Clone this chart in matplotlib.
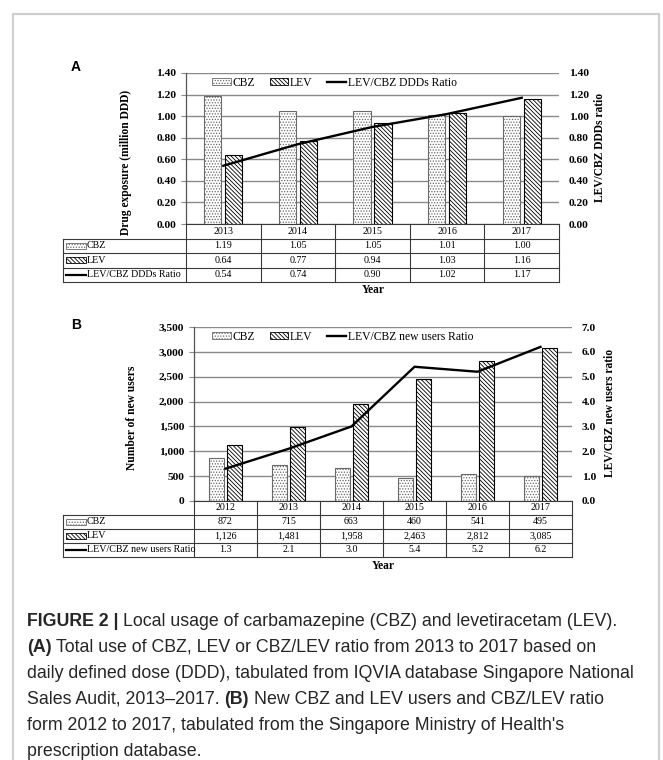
import numpy as np
import matplotlib
matplotlib.use("Agg")
import matplotlib.pyplot as plt
from matplotlib.patches import Rectangle, Patch
from matplotlib.lines import Line2D
from matplotlib.transforms import blended_transform_factory

# ---- data -------------------------------------------------------------
years_a = ["2013", "2014", "2015", "2016", "2017"]
cbz_ddd = [1.19, 1.05, 1.05, 1.01, 1.00]
lev_ddd = [0.64, 0.77, 0.94, 1.03, 1.16]
ratio_ddd = [0.54, 0.74, 0.90, 1.02, 1.17]

years_b = ["2012", "2013", "2014", "2015", "2016", "2017"]
cbz_users = [872, 715, 663, 460, 541, 495]
lev_users = [1126, 1481, 1958, 2463, 2812, 3085]
ratio_users = [1.3, 2.1, 3.0, 5.4, 5.2, 6.2]

ticks_a = [0.0, 0.2, 0.4, 0.6, 0.8, 1.0, 1.2, 1.4]
ticks_b_left = [0, 500, 1000, 1500, 2000, 2500, 3000, 3500]
ticks_b_right = [0.0, 1.0, 2.0, 3.0, 4.0, 5.0, 6.0, 7.0]

# ---- styling ----------------------------------------------------------
W, H = 663, 760
SERIF = "Liberation Serif"
SANS = "Liberation Sans"
GRID = "#8a8a8a"
TABLE = "#3a3a3a"
CBZ_STYLE = dict(facecolor="white", edgecolor="#6a6a6a", hatch="......")
LEV_STYLE = dict(facecolor="white", edgecolor="black", hatch="\\" * 8)
plt.rcParams["hatch.linewidth"] = 0.6
plt.rcParams["font.family"] = SERIF

fig = plt.figure(figsize=(W / 100, H / 100), dpi=100)
fig.patch.set_facecolor("white")


def fx(px):
    return px / W


def fy(py):
    return 1 - py / H


def add_axes_px(left, top, right, bottom):
    return fig.add_axes([fx(left), fy(bottom), (right - left) / W, (bottom - top) / H])


# outer frame
fig.add_artist(Rectangle((fx(13), fy(800)), fx(659) - fx(13), fy(14) - fy(800),
                         transform=fig.transFigure, facecolor="none",
                         edgecolor="#cfcfcf", lw=1.6, clip_on=False))


def key_artist(kind, x0, yc):
    """Small legend key drawn inside a table row label."""
    if kind == "cbz":
        fig.add_artist(Rectangle((fx(x0), fy(yc + 3)), 20 / W, 6 / H,
                                 transform=fig.transFigure, lw=0.6, **CBZ_STYLE))
    elif kind == "lev":
        fig.add_artist(Rectangle((fx(x0), fy(yc + 3)), 20 / W, 6 / H,
                                 transform=fig.transFigure, lw=0.6, **LEV_STYLE))
    else:
        fig.add_artist(Line2D([fx(x0), fx(x0 + 20)], [fy(yc), fy(yc)],
                              transform=fig.transFigure, color="black", lw=1.6))


def panel(box, cats, cbz, lev, ratio, lticks, lfmt, rticks, rfmt,
          ylabel, rlabel, ratio_name, ylabel_xy, rlabel_xy, bar_w, bar_off,
          leg_anchor, table_top, row_h, row_values):
    left, top, right, bottom = box
    ax = add_axes_px(left, top, right, bottom)
    n = len(cats)
    x = np.arange(n)
    ax.bar(x - bar_off, cbz, width=bar_w, lw=0.8, zorder=2, **CBZ_STYLE)
    ax.bar(x + bar_off, lev, width=bar_w, lw=0.8, zorder=2, **LEV_STYLE)
    ax.set_xlim(-0.5, n - 0.5)
    ax.set_ylim(lticks[0], lticks[-1])
    ax.set_yticks(lticks, labels=[lfmt(v) for v in lticks],
                  fontweight="bold", fontsize=8.2)
    ax.set_xticks([])
    ax.grid(axis="y", color=GRID, lw=1.0)
    ax.set_axisbelow(True)
    for s in ("top", "right", "bottom"):
        ax.spines[s].set_visible(False)
    ax.spines["left"].set_color("#555555")
    ax.spines["left"].set_linewidth(0.9)
    ax.tick_params(axis="y", length=3.6, width=0.8, color=GRID, pad=3.4)

    ax2 = ax.twinx()
    ax2.plot(x, ratio, color="black", lw=1.7, zorder=3)
    ax2.set_ylim(rticks[0], rticks[-1])
    ax2.set_yticks(rticks, labels=[rfmt(v) for v in rticks],
                   fontweight="bold", fontsize=8.2)
    ax2.tick_params(axis="y", length=0, pad=7.0)
    for s in ax2.spines.values():
        s.set_visible(False)

    handles = [Patch(lw=0.6, **CBZ_STYLE), Patch(lw=0.6, **LEV_STYLE),
               Line2D([], [], color="black", lw=1.7)]
    ax2.legend(handles, ["CBZ", "LEV", ratio_name], loc="center left",
               bbox_to_anchor=leg_anchor, ncol=3, frameon=False,
               prop=dict(family=SERIF, size=8.4), handlelength=1.6,
               handleheight=0.55, handletextpad=0.15, columnspacing=1.25,
               borderpad=0, borderaxespad=0)

    fig.text(fx(ylabel_xy[0]), fy(ylabel_xy[1]), ylabel, rotation=90,
             ha="center", va="center", fontsize=8.3, fontweight="bold")
    fig.text(fx(rlabel_xy[0]), fy(rlabel_xy[1]), rlabel, rotation=90,
             ha="center", va="center", fontsize=8.3, fontweight="bold")

    # data table under the axes
    tr = blended_transform_factory(ax.transData, fig.transFigure)
    tleft = 63
    edges = [table_top + row_h * i for i in range(5)]
    lw = 0.8
    # horizontal rules
    fig.add_artist(Line2D([fx(left), fx(right)], [fy(edges[0])] * 2,
                          transform=fig.transFigure, color=TABLE, lw=lw))
    for e in edges[1:]:
        fig.add_artist(Line2D([fx(tleft), fx(right)], [fy(e)] * 2,
                              transform=fig.transFigure, color=TABLE, lw=lw))
    # vertical rules
    fig.add_artist(Line2D([fx(tleft)] * 2, [fy(edges[1]), fy(edges[4])],
                          transform=fig.transFigure, color=TABLE, lw=lw))
    for k in range(n + 1):
        fig.add_artist(Line2D([k - 0.5] * 2, [fy(edges[0]), fy(edges[4])],
                              transform=tr, color=TABLE, lw=lw))
    centers = [(edges[i] + edges[i + 1]) / 2 for i in range(4)]
    for k, c in enumerate(cats):
        fig.text(k, fy(centers[0]), c, transform=tr, ha="center",
                 va="center", fontsize=7.2)
    row_labels = ["CBZ", "LEV", ratio_name]
    kinds = ["cbz", "lev", "ratio"]
    for r, (lab, kind, vals) in enumerate(zip(row_labels, kinds, row_values)):
        yc = centers[r + 1]
        key_artist(kind, 65.5, yc)
        fig.text(fx(87), fy(yc), lab, ha="left", va="center", fontsize=7.2)
        for k, v in enumerate(vals):
            fig.text(k, fy(yc), v, transform=tr, ha="center", va="center",
                     fontsize=7.2)
    return ax


panel((186, 73, 559, 224), years_a, cbz_ddd, lev_ddd, ratio_ddd,
      ticks_a, lambda v: f"{v:.2f}", ticks_a, lambda v: f"{v:.2f}",
      "Drug exposure (million DDD)", "LEV/CBZ DDDs ratio", "LEV/CBZ DDDs Ratio",
      (126, 162), (600, 147), 0.23, 0.14, (0.07, 0.934), 224, 14.5,
      [[f"{v:.2f}" for v in cbz_ddd], [f"{v:.2f}" for v in lev_ddd],
       [f"{v:.2f}" for v in ratio_ddd]])

panel((194, 327, 572, 501), years_b, cbz_users, lev_users, ratio_users,
      ticks_b_left, lambda v: f"{v:,.0f}", ticks_b_right, lambda v: f"{v:.1f}",
      "Number of new users", "LEV/CBZ new users ratio", "LEV/CBZ new users Ratio",
      (132, 418), (610, 413), 0.24, 0.143, (0.048, 0.943), 501, 14.0,
      [[f"{v:,}" for v in cbz_users], [f"{v:,}" for v in lev_users],
       [f"{v:.1f}" for v in ratio_users]])

fig.text(fx(373), fy(290), "Year", ha="center", va="center",
         fontsize=8.3, fontweight="bold")
fig.text(fx(383), fy(566), "Year", ha="center", va="center",
         fontsize=8.3, fontweight="bold")
fig.text(fx(76), fy(67), "A", ha="center", va="center", family=SANS,
         fontsize=10, fontweight="bold")
fig.text(fx(76), fy(325), "B", ha="center", va="center", family=SANS,
         fontsize=10, fontweight="bold")

# ---- caption ----------------------------------------------------------
caption = [
    [("FIGURE 2 |", True), ("Local usage of carbamazepine (CBZ) and levetiracetam (LEV).", False)],
    [("(A)", True), ("Total use of CBZ, LEV or CBZ/LEV ratio from 2013 to 2017 based on", False)],
    [("daily defined dose (DDD), tabulated from IQVIA database Singapore National", False)],
    [("Sales Audit, 2013\u20132017.", False), ("(B)", True),
     ("New CBZ and LEV users and CBZ/LEV ratio", False)],
    [("form 2012 to 2017, tabulated from the Singapore Ministry of Health's", False)],
    [("prescription database.", False)],
]
CAP_SIZE = 12.8
CAP_COLOR = "#262626"
renderer = fig.canvas.get_renderer()


def text_width(s, bold):
    t = fig.text(0, 0, s, fontsize=CAP_SIZE, family=SANS,
                 fontweight="bold" if bold else "normal")
    w = t.get_window_extent(renderer).width
    t.remove()
    return w


space_w = text_width("x x", False) - text_width("xx", False)
baseline0, pitch = 626, 26.0
for i, runs in enumerate(caption):
    xpos = 27
    for j, (s, bold) in enumerate(runs):
        if j > 0:
            xpos += space_w
        t = fig.text(fx(xpos), fy(baseline0 + i * pitch), s, fontsize=CAP_SIZE,
                     family=SANS, color=CAP_COLOR, va="baseline",
                     fontweight="bold" if bold else "normal")
        xpos += t.get_window_extent(renderer).width

fig.savefig("out.png", dpi=100, facecolor="white")
